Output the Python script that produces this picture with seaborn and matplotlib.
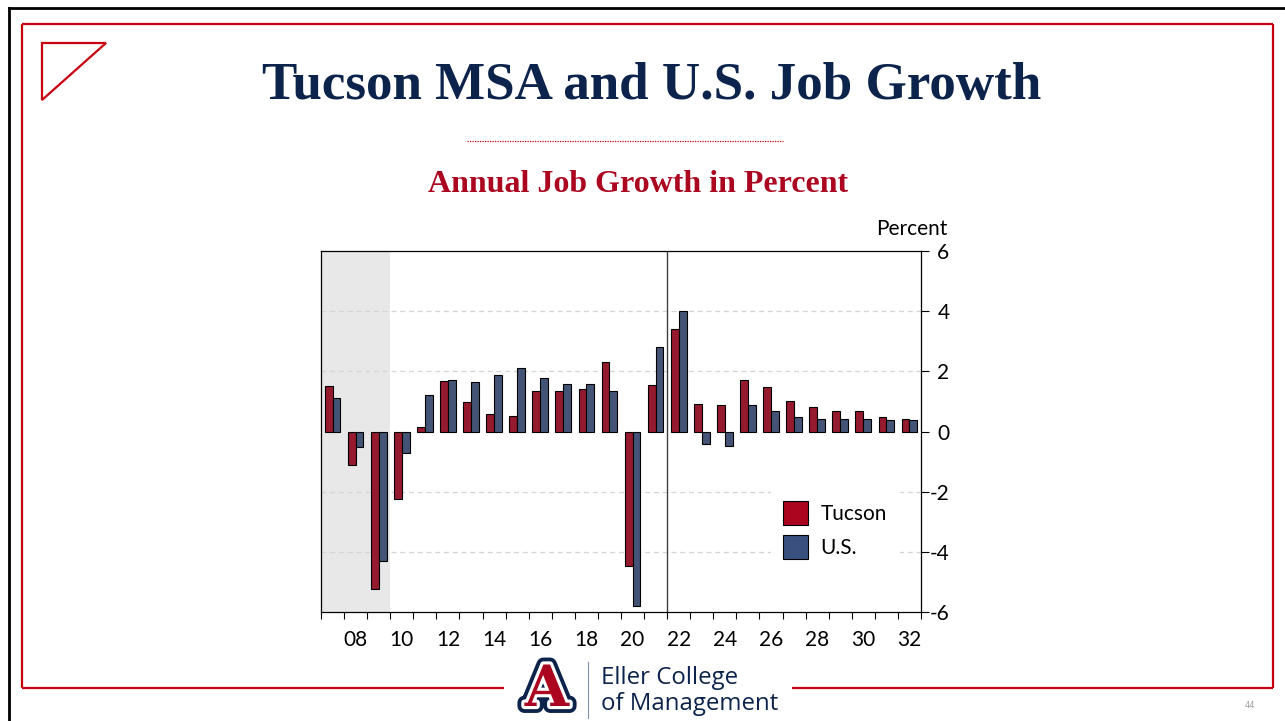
import matplotlib
matplotlib.use("Agg")
import matplotlib.pyplot as plt
import matplotlib.patheffects as pe
from matplotlib.patches import Polygon, Patch
from matplotlib.lines import Line2D
from matplotlib.ticker import FixedLocator
import pandas as pd
import seaborn as sns

# ---- data (annual job growth, percent) ----
years = ["07", "08", "09", "10", "11", "12", "13", "14", "15", "16", "17", "18", "19",
         "20", "21", "22", "23", "24", "25", "26", "27", "28", "29", "30", "31", "32"]
tucson = [1.50, -1.11, -5.24, -2.23, 0.14, 1.68, 0.97, 0.58, 0.53, 1.36, 1.36, 1.40, 2.31,
          -4.48, 1.53, 3.41, 0.93, 0.87, 1.71, 1.47, 1.03, 0.83, 0.69, 0.69, 0.47, 0.43]
us = [1.13, -0.53, -4.32, -0.70, 1.22, 1.71, 1.63, 1.89, 2.10, 1.79, 1.57, 1.57, 1.36,
      -5.81, 2.81, 4.02, -0.41, -0.49, 0.87, 0.69, 0.47, 0.43, 0.40, 0.40, 0.37, 0.37]
series_names = ["Tucson", "U.S."]
y_ticks = [-6, -4, -2, 0, 2, 4, 6]
grid_levels = [-4, -2, 2, 4]

title = "Tucson MSA and U.S. Job Growth"
subtitle = "Annual Job Growth in Percent"

RED = "#AB0520"
NAVY = "#3A5180"
AZ_BLUE = "#0C234B"
FRAME_RED = "#C8000F"
CHART_FONT = "Lato"

df = pd.DataFrame({"year": years * 2,
                   "growth": tucson + us,
                   "series": [series_names[0]] * len(years) + [series_names[1]] * len(years)})

plt.rcParams["axes.unicode_minus"] = False
W, H = 1285, 721
fig = plt.figure(figsize=(W / 100, H / 100), dpi=100)


def fx(x):
    return x / W


def fy(y):
    return 1 - y / H


# ---- slide decoration ----
fig.add_artist(Line2D([fx(9), fx(9)], [fy(8), 0], color="black", lw=2))
fig.add_artist(Line2D([fx(9), 1], [fy(8), fy(8)], color="black", lw=2))
red_kw = dict(color=FRAME_RED, lw=1.6, solid_capstyle="butt")
fig.add_artist(Line2D([fx(22), fx(1273)], [fy(24), fy(24)], **red_kw))
fig.add_artist(Line2D([fx(22), fx(22)], [fy(24), fy(688)], **red_kw))
fig.add_artist(Line2D([fx(1273), fx(1273)], [fy(24), fy(688)], **red_kw))
fig.add_artist(Line2D([fx(22), fx(504)], [fy(688), fy(688)], **red_kw))
fig.add_artist(Line2D([fx(792), fx(1273)], [fy(688), fy(688)], **red_kw))
fig.add_artist(Polygon([[fx(42), fy(43)], [fx(106), fy(43)], [fx(42), fy(100)]],
                       closed=True, fill=False, edgecolor=FRAME_RED, lw=1.6))

fig.text(fx(652), fy(86), title, ha="center", va="center", color=AZ_BLUE,
         family="Liberation Serif", weight="bold", fontsize=38.2)
fig.add_artist(Line2D([fx(467), fx(783)], [fy(141), fy(141)], color=FRAME_RED,
                      lw=0.9, linestyle=(0, (1, 1))))
fig.text(fx(638), fy(184), subtitle, ha="center", va="center", color=RED,
         family="Liberation Serif", weight="bold", fontsize=23)

# logo
fig.text(fx(547), fy(690), "A", ha="center", va="center", color=RED,
         family="DejaVu Serif", weight="bold", fontsize=41,
         path_effects=[pe.Stroke(linewidth=10, foreground=AZ_BLUE),
                       pe.Stroke(linewidth=4.5, foreground="white"), pe.Normal()])
fig.add_artist(Line2D([fx(588), fx(588)], [fy(662), fy(718)], color="#8090A8", lw=0.8))
fig.text(fx(601), fy(678), "Eller College", ha="left", va="center", color=AZ_BLUE,
         family="Open Sans", fontsize=17.3)
fig.text(fx(601), fy(704), "of Management", ha="left", va="center", color=AZ_BLUE,
         family="Open Sans", fontsize=17.3)
fig.text(fx(1250), fy(706), "44", ha="center", va="center", color="#A0A0A0", fontsize=6)

# ---- chart ----
ax = fig.add_axes([fx(321), fy(612), fx(921) - fx(321), fy(251) - fy(612)])
ax.axvspan(-0.5, 2.5, color="#E8E8E8", zorder=0, lw=0)
for g in grid_levels:
    ax.axhline(g, color="#D4D4D4", lw=0.9, linestyle=(0, (4, 3)), zorder=1)
ax.axvline(14.5, color="#404040", lw=1.0, zorder=2)

sns.barplot(data=df, x="year", y="growth", hue="series", order=years,
            hue_order=series_names, palette=[RED, NAVY], edgecolor="black",
            linewidth=0.8, width=0.68, gap=0, legend=False, ax=ax, zorder=3)

ax.set_xlim(-0.5, len(years) - 0.5)
ax.set_ylim(-6, 6)
ax.set_xlabel("")
ax.set_ylabel("")

ax.xaxis.set_major_locator(FixedLocator(range(1, len(years), 2)))
ax.set_xticklabels(years[1::2])
ax.xaxis.set_minor_locator(FixedLocator([i - 0.5 for i in range(len(years) + 1)]))
ax.tick_params(axis="x", which="major", length=0, pad=13, labelsize=15)
ax.tick_params(axis="x", which="minor", length=5, width=0.8, direction="out")

ax.yaxis.tick_right()
ax.set_yticks(y_ticks)
ax.set_yticklabels([str(v) for v in y_ticks])
ax.tick_params(axis="y", length=5.5, width=0.8, direction="out", pad=15, labelsize=15)
for lbl in ax.get_yticklabels():
    lbl.set_horizontalalignment("right")
for lbl in ax.get_xticklabels() + ax.get_yticklabels():
    lbl.set_family(CHART_FONT)

for s in ax.spines.values():
    s.set_color("black")
    s.set_linewidth(0.9)

ax.text(fx(948), fy(229), "Percent", transform=fig.transFigure, ha="right", va="center",
        family=CHART_FONT, fontsize=15)

handles = [Patch(facecolor=RED, edgecolor="black", lw=0.8),
           Patch(facecolor=NAVY, edgecolor="black", lw=0.8)]
leg = ax.legend(handles, series_names, loc="center", bbox_to_anchor=(0.857, 0.227),
                frameon=True, facecolor="white", edgecolor="none", framealpha=1,
                fancybox=False, handlelength=1.16, handleheight=1.35, labelspacing=0.5,
                borderpad=0.6, handletextpad=0.63,
                prop={"family": CHART_FONT, "size": 15})
leg.set_zorder(4)

fig.savefig("out.png", dpi=100)
